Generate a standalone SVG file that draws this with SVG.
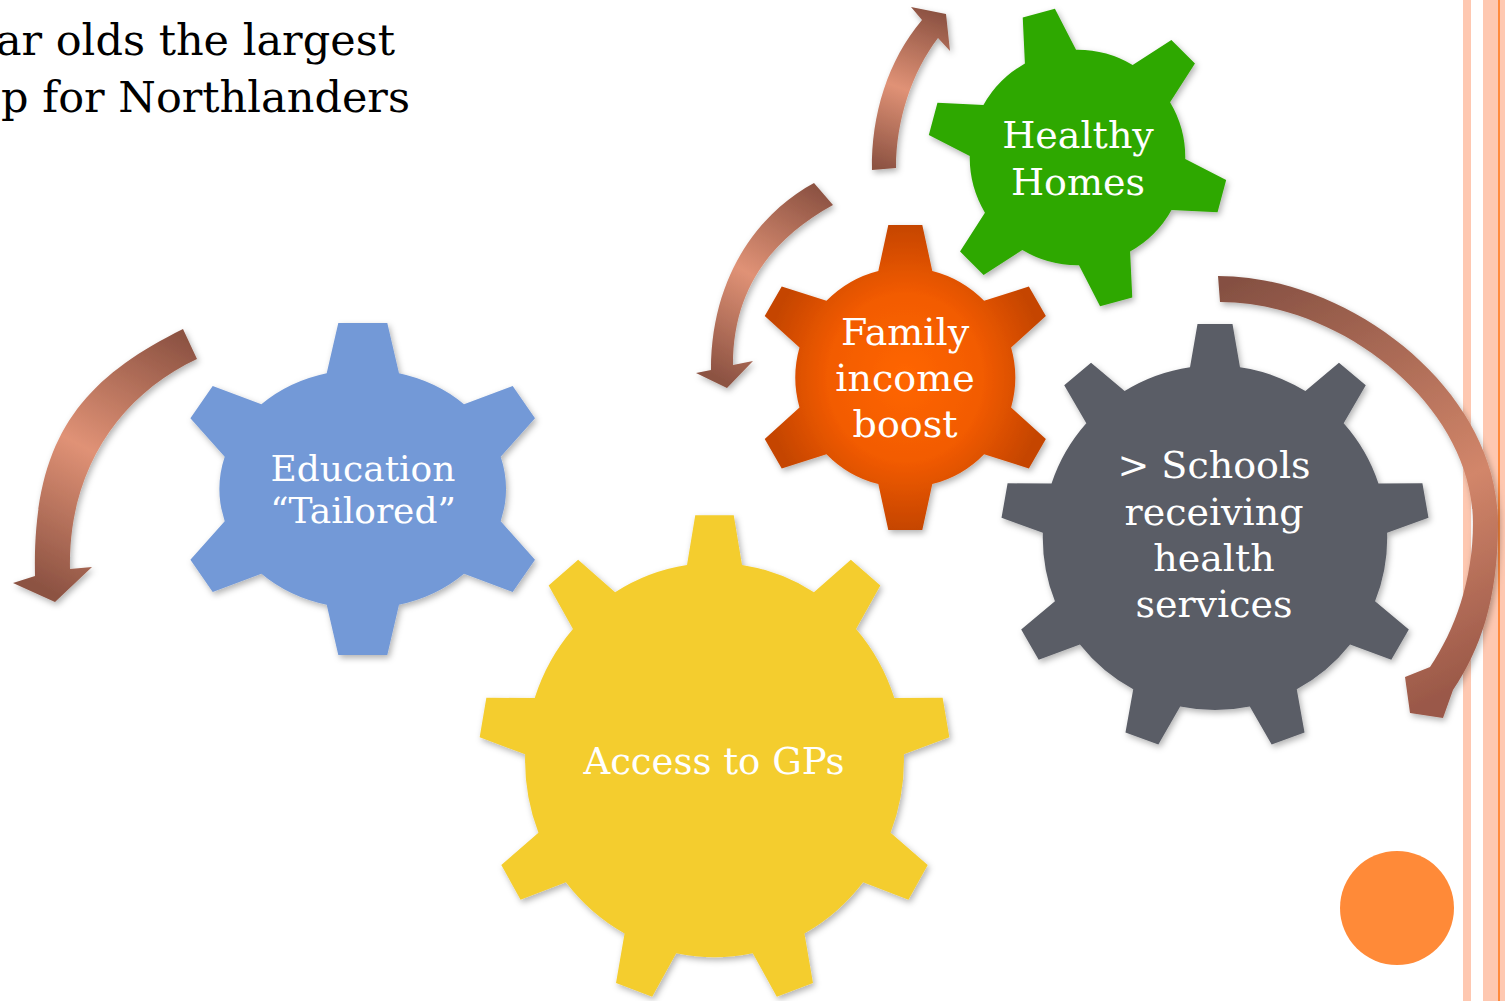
<svg xmlns="http://www.w3.org/2000/svg" xmlns:xlink="http://www.w3.org/1999/xlink" width="1505" height="1001" viewBox="0 0 1505 1001">
<style>
.title{font-family:"DejaVu Serif","Liberation Serif",serif;font-size:43px;fill:#000;text-anchor:end}
.lbl{font-family:"DejaVu Serif","Liberation Serif",serif;font-size:38px;fill:#fff;text-anchor:middle}
.stripe{fill:#FEC8B1}
</style>
<defs>
<filter id="sh" x="-20%" y="-20%" width="140%" height="140%">
<feDropShadow dx="2" dy="3" stdDeviation="3" flood-color="#000" flood-opacity="0.3"/>
</filter>
<radialGradient id="gOrange" cx="0.5" cy="0.5" r="0.5">
<stop offset="0" stop-color="#FF6600"/>
<stop offset="0.55" stop-color="#F25B00"/>
<stop offset="1" stop-color="#C54500"/>
</radialGradient>
<linearGradient id="aL" gradientUnits="userSpaceOnUse" x1="190" y1="340" x2="55" y2="595">
<stop offset="0" stop-color="#8C5242"/><stop offset="0.5" stop-color="#E09276"/><stop offset="1" stop-color="#8C5242"/>
</linearGradient>
<linearGradient id="a2" gradientUnits="userSpaceOnUse" x1="825" y1="192" x2="724" y2="382">
<stop offset="0" stop-color="#8C5242"/><stop offset="0.5" stop-color="#E09276"/><stop offset="1" stop-color="#8C5242"/>
</linearGradient>
<linearGradient id="a3" gradientUnits="userSpaceOnUse" x1="884" y1="170" x2="940" y2="14">
<stop offset="0" stop-color="#8C5242"/><stop offset="0.5" stop-color="#E09276"/><stop offset="1" stop-color="#8C5242"/>
</linearGradient>
<linearGradient id="a4" gradientUnits="userSpaceOnUse" x1="1219" y1="289" x2="1425" y2="705">
<stop offset="0" stop-color="#855042"/><stop offset="0.6" stop-color="#D2866A"/><stop offset="1" stop-color="#9A5848"/>
</linearGradient>
<path id="gear6" d="M-27,-106.6 L-17,-152.5 L17,-152.5 L27,-106.6 A110,110 0 0 1 78.82,-76.68 L123.57,-90.97 L140.57,-61.53 L105.82,-29.92 A110,110 0 0 1 105.82,29.92 L140.57,61.53 L123.57,90.97 L78.82,76.68 A110,110 0 0 1 27,106.6 L17,152.5 L-17,152.5 L-27,106.6 A110,110 0 0 1 -78.82,76.68 L-123.57,90.97 L-140.57,61.53 L-105.82,29.92 A110,110 0 0 1 -105.82,-29.92 L-140.57,-61.53 L-123.57,-90.97 L-78.82,-76.68 A110,110 0 0 1 -27,-106.6 Z"/>
<path id="gear9" d="M-25,-170.4 L-17.5,-213.7 L17.5,-213.7 L25,-170.4 A172.2,172.2 0 0 1 90.38,-146.6 L123.96,-174.94 L150.78,-152.44 L128.68,-114.46 A172.2,172.2 0 0 1 163.47,-54.2 L207.41,-54.33 L213.49,-19.87 L172.15,-4.96 A172.2,172.2 0 0 1 160.07,63.55 L193.82,91.69 L176.32,122.01 L135.07,106.85 A172.2,172.2 0 0 1 81.77,151.58 L89.53,194.83 L56.65,206.81 L34.79,168.68 A172.2,172.2 0 0 1 -34.79,168.68 L-56.65,206.81 L-89.53,194.83 L-81.77,151.58 A172.2,172.2 0 0 1 -135.07,106.85 L-176.32,122.01 L-193.82,91.69 L-160.07,63.55 A172.2,172.2 0 0 1 -172.15,-4.96 L-213.49,-19.87 L-207.41,-54.33 L-163.47,-54.2 A172.2,172.2 0 0 1 -128.68,-114.46 L-150.78,-152.44 L-123.96,-174.94 L-90.38,-146.6 A172.2,172.2 0 0 1 -25,-170.4 Z"/>
</defs>

<rect width="1505" height="1001" fill="#fff"/>
<g id="border">
<rect class="stripe" x="1463" y="0" width="8" height="1001"/>
<rect class="stripe" x="1483" y="0" width="22" height="1001"/>
<rect x="1498" y="0" width="2" height="1001" fill="#FF8A3D"/>
</g>

<g id="title">
<text class="title" x="395" y="55">ar olds the largest</text>
<text class="title" x="410" y="112">p for Northlanders</text>
</g>

<g id="connectors" filter="url(#sh)">
<path id="arrow-left" fill="url(#aL)" d="M183,329 C80,380 32,440 35,576 L13,583 L55,602 L92,567 L70,569 C68,470 120,395 197,359 Z"/>
<path id="arrow-family" fill="url(#a2)" d="M814,183 C760,212 711,275 711,370 L696,373 L727,388 L753,361 L733,365 C733,290 770,240 833,205 Z"/>
<path id="arrow-top" fill="url(#a3)" d="M872,170 C871,115 888,60 922,20 L911,7 L946,14 L950,51 L938,38 C912,72 896,120 896,168 Z"/>
<path id="arrow-right" fill="url(#a4)" d="M1218,276 C1350,276 1498,390 1498,523 C1498,600 1480,650 1453,690 L1443,718 L1410,713 L1405,677 L1430,667 C1455,630 1473,580 1473,523 C1473,405 1340,302 1220,302 Z"/>
</g>

<g id="node-education">
<path filter="url(#sh)" fill="#7399D7" d="M326.7,373.3 L338.3,323 L387.3,323 L399,373.3 A142,120 0 0 1 464,404.3 L512.7,386 L535,418.3 L500.7,456.7 A142,120 0 0 1 500.7,521.3 L535,559.7 L512.7,592 L464,573.7 A142,120 0 0 1 399,604.7 L387.3,655 L338.3,655 L326.7,604.7 A142,120 0 0 1 261.4,573.7 L212.7,592 L190.4,559.7 L224.7,521.3 A142,120 0 0 1 224.7,456.7 L190.4,418.3 L212.7,386 L261.4,404.3 A142,120 0 0 1 326.7,373.3 Z"/>
<text class="lbl" style="font-size:36px" x="363" y="481">Education</text>
<text class="lbl" style="font-size:36px" x="363" y="523">“Tailored”</text>
</g>

<g id="node-gps">
<g filter="url(#sh)"><use xlink:href="#gear9" href="#gear9" fill="#F4CD2F" transform="translate(714.5,760) scale(1.1,1.145)"/></g>
<text class="lbl" style="font-size:37px" x="714" y="774">Access to GPs</text>
</g>

<g id="node-healthy">
<g filter="url(#sh)"><use xlink:href="#gear6" href="#gear6" fill="#2EA800" transform="translate(1077.5,157.5) rotate(-15) scale(0.98)"/></g>
<text class="lbl" x="1078" y="148">Healthy</text>
<text class="lbl" x="1078" y="195">Homes</text>
</g>

<g id="node-family">
<g filter="url(#sh)"><use xlink:href="#gear6" href="#gear6" fill="url(#gOrange)" transform="translate(905.3,377.5)"/></g>
<text class="lbl" x="905" y="345">Family</text>
<text class="lbl" x="905" y="391">income</text>
<text class="lbl" x="905" y="437">boost</text>
</g>

<g id="node-schools">
<g filter="url(#sh)"><use xlink:href="#gear9" href="#gear9" fill="#5A5D66" transform="translate(1215,537.7)"/></g>
<text class="lbl" x="1214" y="478">&gt; Schools</text>
<text class="lbl" x="1214" y="525">receiving</text>
<text class="lbl" x="1214" y="571">health</text>
<text class="lbl" x="1214" y="617">services</text>
</g>

<circle id="dot" cx="1397" cy="908" r="57" fill="#FF8A38"/>
</svg>
